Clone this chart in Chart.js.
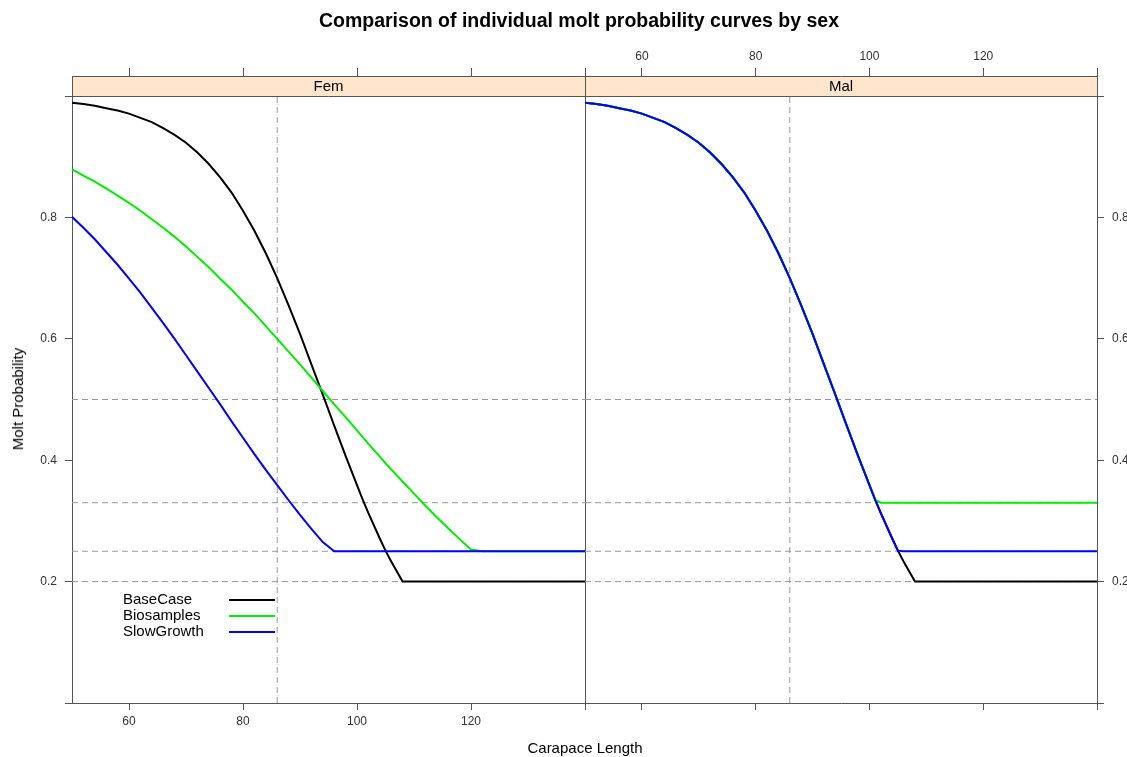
<!DOCTYPE html>
<html lang="en">
<head>
<meta charset="UTF-8">
<title>Molt probability by sex</title>
<script src="https://cdn.jsdelivr.net/npm/chart.js"></script>
<style>
    body { margin: 0; background: #fff; font-family: "Liberation Sans", Arial, sans-serif; }
    #wrap { position: relative; width: 1127px; height: 757px; overflow: hidden; }
    #wrap canvas { position: absolute; left: 0; top: 0; }
    .title { position: absolute; left: 0; width: 1158px; top: 8px; text-align: center; font-weight: bold; font-size: 19.5px; line-height: 24px; color: #000; }
    .xlab { position: absolute; left: 0; width: 1170px; top: 739px; text-align: center; font-size: 15px; line-height: 18px; color: #000; }
    .ylab { position: absolute; left: 18px; top: 399px; transform: translate(-50%, -50%) rotate(-90deg); white-space: nowrap; font-size: 15px; line-height: 18px; color: #000; }
</style>
</head>
<body>
<div id="wrap">
    <canvas id="femChart" width="1127" height="757"></canvas>
    <canvas id="malChart" width="1127" height="757"></canvas>
    <div class="title">Comparison of individual molt probability curves by sex</div>
    <div class="xlab">Carapace Length</div>
    <div class="ylab">Molt Probability</div>
</div>

<script>
const carapaceLength = [50, 52, 54, 56, 58, 60, 62, 64, 66, 68, 70, 72, 74, 76, 78, 80, 82, 84, 86, 88, 90, 92, 94, 96, 98, 100, 101, 102, 104, 105, 106, 108, 110, 112, 114, 116, 118, 120, 122, 124, 126, 128, 130, 132, 134, 136, 138, 140];

const femBaseCase = [0.989, 0.987, 0.984, 0.980, 0.976, 0.971, 0.964, 0.957, 0.947, 0.936, 0.923, 0.907, 0.888, 0.866, 0.841, 0.811, 0.778, 0.741, 0.700, 0.655, 0.608, 0.558, 0.508, 0.457, 0.407, 0.359, 0.335, 0.313, 0.271, 0.251, 0.233, 0.200, 0.2, 0.2, 0.2, 0.2, 0.2, 0.2, 0.2, 0.2, 0.2, 0.2, 0.2, 0.2, 0.2, 0.2, 0.2, 0.2];
const femBiosamples = [0.879, 0.869, 0.859, 0.848, 0.836, 0.824, 0.811, 0.797, 0.783, 0.768, 0.752, 0.735, 0.718, 0.699, 0.681, 0.661, 0.642, 0.621, 0.600, 0.579, 0.558, 0.536, 0.514, 0.492, 0.471, 0.449, 0.438, 0.427, 0.406, 0.395, 0.385, 0.365, 0.345, 0.325, 0.306, 0.288, 0.270, 0.253, 0.25, 0.25, 0.25, 0.25, 0.25, 0.25, 0.25, 0.25, 0.25, 0.25];
const femSlowGrowth = [0.801, 0.783, 0.764, 0.743, 0.722, 0.699, 0.676, 0.651, 0.626, 0.600, 0.573, 0.546, 0.519, 0.492, 0.464, 0.437, 0.410, 0.384, 0.359, 0.334, 0.310, 0.287, 0.265, 0.25, 0.25, 0.25, 0.25, 0.25, 0.25, 0.25, 0.25, 0.25, 0.25, 0.25, 0.25, 0.25, 0.25, 0.25, 0.25, 0.25, 0.25, 0.25, 0.25, 0.25, 0.25, 0.25, 0.25, 0.25];

const malBaseCase = [0.989, 0.987, 0.984, 0.980, 0.976, 0.971, 0.964, 0.957, 0.947, 0.936, 0.923, 0.907, 0.888, 0.866, 0.841, 0.811, 0.778, 0.741, 0.700, 0.655, 0.608, 0.558, 0.508, 0.457, 0.407, 0.359, 0.335, 0.313, 0.271, 0.251, 0.233, 0.200, 0.2, 0.2, 0.2, 0.2, 0.2, 0.2, 0.2, 0.2, 0.2, 0.2, 0.2, 0.2, 0.2, 0.2, 0.2, 0.2];
const malBiosamples = [0.989, 0.987, 0.984, 0.980, 0.976, 0.971, 0.964, 0.957, 0.947, 0.936, 0.923, 0.907, 0.888, 0.866, 0.841, 0.811, 0.778, 0.741, 0.700, 0.655, 0.608, 0.558, 0.508, 0.457, 0.407, 0.359, 0.335, 0.33, 0.33, 0.33, 0.33, 0.33, 0.33, 0.33, 0.33, 0.33, 0.33, 0.33, 0.33, 0.33, 0.33, 0.33, 0.33, 0.33, 0.33, 0.33, 0.33, 0.33];
const malSlowGrowth = [0.989, 0.987, 0.984, 0.980, 0.976, 0.971, 0.964, 0.957, 0.947, 0.936, 0.923, 0.907, 0.888, 0.866, 0.841, 0.811, 0.778, 0.741, 0.700, 0.655, 0.608, 0.558, 0.508, 0.457, 0.407, 0.359, 0.335, 0.313, 0.271, 0.251, 0.25, 0.25, 0.25, 0.25, 0.25, 0.25, 0.25, 0.25, 0.25, 0.25, 0.25, 0.25, 0.25, 0.25, 0.25, 0.25, 0.25, 0.25];

const seriesNames = ['BaseCase', 'Biosamples', 'SlowGrowth'];
const seriesColors = ['#000000', '#00ee00', '#0000ff'];
const panelNames = ['Fem', 'Mal'];

// dashed reference lines
const refLengths = [86];
const refProbs = [0.5, 0.33, 0.25, 0.2];

const lengthTicks = [60, 80, 100, 120, 140];
const probTicks = [0, 0.2, 0.4, 0.6, 0.8, 1.0];
const probMax = 1.033; // room above 1.0 for the panel strip

const FONT = '"Liberation Sans", Arial, sans-serif';
const AXIS_COLOR = '#555';

Chart.defaults.font.family = FONT;
Chart.defaults.color = '#333';

function curveDatasets(seriesValues) {
    return seriesValues.map((ys, i) => ({
        label: seriesNames[i],
        data: carapaceLength.map((x, j) => ({ x: x, y: ys[j] })),
        borderColor: seriesColors[i],
        borderWidth: 2,
        pointRadius: 0,
        tension: 0,
        order: 3 - i
    }));
}

function refDatasets() {
    const dashed = { borderColor: '#999', borderWidth: 1, borderDash: [6, 4], pointRadius: 0, order: 10 };
    const sets = [];
    refLengths.forEach(v => sets.push(Object.assign({ data: [{ x: v, y: 0 }, { x: v, y: 1 }] }, dashed)));
    refProbs.forEach(v => sets.push(Object.assign({ data: [{ x: 50, y: v }, { x: 140, y: v }] }, dashed)));
    return sets;
}

function lengthAxis(position, showLabels, tickLength, height) {
    return {
        type: 'linear',
        position: position,
        min: 50,
        max: 140,
        afterBuildTicks: s => { s.ticks = lengthTicks.map(v => ({ value: v })); },
        afterFit: s => { s.height = height; },
        ticks: {
            autoSkip: false,
            maxRotation: 0,
            padding: 4,
            font: { size: 12 },
            color: '#333',
            callback: v => (showLabels && v < 140) ? String(v) : ''
        },
        grid: { drawOnChartArea: false, drawTicks: true, tickLength: tickLength, color: AXIS_COLOR },
        border: { color: AXIS_COLOR }
    };
}

function probAxis(position, withTicks, width) {
    return {
        type: 'linear',
        position: position,
        min: 0,
        max: probMax,
        afterBuildTicks: s => { s.ticks = probTicks.map(v => ({ value: v })); },
        afterFit: s => { s.width = width; },
        ticks: {
            display: withTicks,
            padding: 8,
            font: { size: 12 },
            color: '#333',
            callback: v => (v > 0.01 && v < 0.99) ? v.toFixed(1) : ''
        },
        grid: { display: withTicks, drawOnChartArea: false, drawTicks: true, tickLength: 7, color: AXIS_COLOR },
        border: { color: AXIS_COLOR }
    };
}

// peach strip with the panel name, between y = 1 and the top of the plot area
const stripPlugin = {
    id: 'strip',
    beforeDraw(chart, args, opts) {
        const { ctx, chartArea } = chart;
        const bottom = Math.round(chart.scales.y.getPixelForValue(1)) + 0.5;
        ctx.save();
        ctx.fillStyle = '#ffe5cc';
        ctx.fillRect(chartArea.left, chartArea.top, chartArea.right - chartArea.left, bottom - chartArea.top);
        ctx.strokeStyle = AXIS_COLOR;
        ctx.lineWidth = 1;
        ctx.beginPath();
        ctx.moveTo(chartArea.left, bottom);
        ctx.lineTo(chartArea.right, bottom);
        ctx.stroke();
        ctx.fillStyle = '#000';
        ctx.font = '15px ' + FONT;
        ctx.textAlign = 'center';
        ctx.textBaseline = 'middle';
        ctx.fillText(opts.text, (chartArea.left + chartArea.right) / 2, (chartArea.top + bottom) / 2 + 1);
        ctx.restore();
    }
};

const legendPlugin = {
    id: 'keyLegend',
    afterDatasetsDraw(chart, args, opts) {
        const ctx = chart.ctx;
        ctx.save();
        ctx.font = '15px ' + FONT;
        ctx.textBaseline = 'middle';
        ctx.textAlign = 'left';
        seriesNames.forEach((name, i) => {
            const y = opts.top + i * opts.rowHeight;
            ctx.fillStyle = '#000';
            ctx.fillText(name, opts.textX, y);
            ctx.strokeStyle = seriesColors[i];
            ctx.lineWidth = 2;
            ctx.beginPath();
            ctx.moveTo(opts.lineStart, y);
            ctx.lineTo(opts.lineEnd, y);
            ctx.stroke();
        });
        ctx.restore();
    }
};

function createPanel(canvasId, name, seriesValues, left) {
    const isLeft = left;
    const plugins = isLeft ? [stripPlugin, legendPlugin] : [stripPlugin];
    return new Chart(document.getElementById(canvasId), {
        type: 'line',
        data: { datasets: curveDatasets(seriesValues).concat(refDatasets()) },
        options: {
            responsive: false,
            animation: false,
            devicePixelRatio: 1,
            events: [],
            layout: { padding: isLeft ? { left: 0, right: 542, top: 0, bottom: 0 } : { left: 585, right: 0, top: 0, bottom: 0 } },
            scales: {
                x: lengthAxis('bottom', isLeft, 7, 54),
                xTop: lengthAxis('top', !isLeft, 8, 76),
                y: probAxis('left', isLeft, isLeft ? 72 : 0),
                yRight: probAxis('right', !isLeft, isLeft ? 0 : 30)
            },
            plugins: {
                legend: { display: false },
                tooltip: { enabled: false },
                strip: { text: name },
                keyLegend: { textX: 123, top: 600, rowHeight: 16, lineStart: 229, lineEnd: 275 }
            }
        },
        plugins: plugins
    });
}

createPanel('femChart', panelNames[0], [femBaseCase, femBiosamples, femSlowGrowth], true);
createPanel('malChart', panelNames[1], [malBaseCase, malBiosamples, malSlowGrowth], false);
</script>
</body>
</html>
